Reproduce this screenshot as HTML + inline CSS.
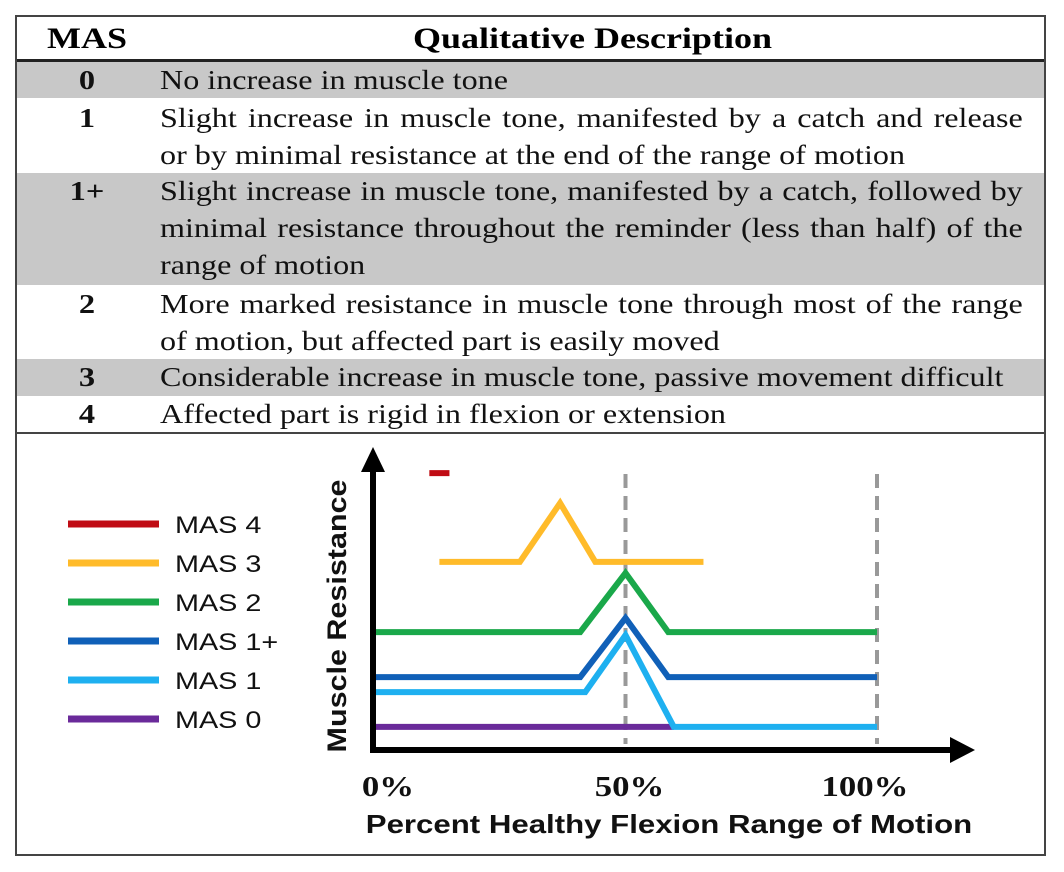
<!DOCTYPE html>
<html><head><meta charset="utf-8"><style>
body{margin:0;width:1064px;height:872px;background:#fff;position:relative;overflow:hidden;font-family:"Liberation Serif",serif;}
.frame{position:absolute;left:15px;top:15px;width:1031px;height:841px;border:2px solid #444;box-sizing:border-box;}
.row{position:absolute;left:17px;width:1027px;font-size:27px;line-height:37px;color:#111;}
.row.g{background:#c8c8c8;}
.row .m{position:absolute;left:0;width:140px;text-align:center;font-weight:bold;transform:scaleX(1.2);}
.row .d{position:absolute;left:143px;top:0;width:725px;transform:scaleX(1.19);transform-origin:0 0;}
.row .d div{white-space:nowrap;text-align:justify;text-align-last:justify;}
.row .d div.l{text-align-last:left;}
.hdr{position:absolute;top:17px;left:17px;width:1027px;height:43px;font-weight:bold;font-size:30px;line-height:43px;}
.hdr span{transform:scaleX(1.2);}
</style></head><body>
<div class="frame"></div>
<div class="hdr">
<span style="position:absolute;left:0;width:140px;text-align:center">MAS</span>
<span style="position:absolute;left:143px;width:865px;text-align:center">Qualitative Description</span></div>
<div style="position:absolute;left:17px;top:59px;width:1027px;height:3px;background:#222"></div>
<div class="row g" style="top:62px;height:36px"><span class="m">0</span><span class="d"><div class="l">No increase in muscle tone</div></span></div>
<div class="row" style="top:100px;height:72px"><span class="m">1</span><span class="d"><div>Slight increase in muscle tone, manifested by a catch and release</div><div class="l">or by minimal resistance at the end of the range of motion</div></span></div>
<div class="row g" style="top:173px;height:112px"><span class="m">1+</span><span class="d"><div>Slight increase in muscle tone, manifested by a catch, followed by</div><div>minimal resistance throughout the reminder (less than half) of the</div><div class="l">range of motion</div></span></div>
<div class="row" style="top:286px;height:72px"><span class="m">2</span><span class="d"><div>More marked resistance in muscle tone through most of the range</div><div class="l">of motion, but affected part is easily moved</div></span></div>
<div class="row g" style="top:359px;height:37px"><span class="m">3</span><span class="d"><div class="l">Considerable increase in muscle tone, passive movement difficult</div></span></div>
<div class="row" style="top:396px;height:37px"><span class="m">4</span><span class="d"><div class="l">Affected part is rigid in flexion or extension</div></span></div>
<div style="position:absolute;left:17px;top:432px;width:1027px;height:2px;background:#444"></div>
<svg id="chart" width="1064" height="872" style="position:absolute;left:0;top:0"></svg>
<script>
const seriesNames=["MAS 4","MAS 3","MAS 2","MAS 1+","MAS 1","MAS 0"];
const seriesColors=["#c00c14","#ffbb2a","#1aa84a","#1060b8","#1eb0f0","#6a2a9a"];
const mas4X=[11,15], mas4Y=[9.23,9.23];
const mas3X=[13,29,37,44,65.5], mas3Y=[6.27,6.27,8.23,6.27,6.27];
const mas2X=[0,41,50,58.5,100], mas2Y=[3.93,3.93,5.9,3.93,3.93];
const mas1pX=[0,41,50,58.5,100], mas1pY=[2.43,2.43,4.4,2.43,2.43];
const mas1X=[0,42,50,59.6,100], mas1Y=[1.93,1.93,3.83,0.77,0.77];
const mas0X=[0,59.6], mas0Y=[0.77,0.77];
const tickVals=[0,50,100];
const tickLabels=["0%","50%","100%"];
const dashVals=[50,100];
const svg=document.getElementById('chart');
const NS="http://www.w3.org/2000/svg";
const xs=p=>374+5.03*p, ys=v=>750-30*v;
function mk(t,a){const e=document.createElementNS(NS,t);for(const k in a)e.setAttribute(k,a[k]);svg.appendChild(e);return e;}
function stretch(e,x){e.setAttribute('transform','translate('+x+',0) scale(1.2,1) translate('+(-x)+',0)');}
dashVals.forEach(v=>{const l=mk('line',{x1:xs(v),x2:xs(v),y1:474,y2:744,stroke:'#999','stroke-width':4,'stroke-dasharray':'14,8'});

});
const allX=[mas4X,mas3X,mas2X,mas1pX,mas1X,mas0X], allY=[mas4Y,mas3Y,mas2Y,mas1pY,mas1Y,mas0Y];
for(let i=5;i>=0;i--){const pts=allX[i].map((x,j)=>xs(x)+','+ys(allY[i][j])).join(' ');
const pl=mk('polyline',{points:pts,fill:'none',stroke:seriesColors[i],'stroke-width':6,'stroke-linejoin':'miter'});

}
const ax=mk('path',{d:'M373,750 L373,462 M370,750 L962,750',stroke:'#000','stroke-width':6,fill:'none'});


const ah1=mk('polygon',{points:'373,447 361,472 385,472',fill:'#000'});


const ah2=mk('polygon',{points:'975,750 950,737 950,763',fill:'#000'});


tickVals.forEach((v,i)=>{const cx=xs(v)+(i==0?14:i==1?4:-12);const t=mk('text',{x:cx,y:796,'text-anchor':'middle','font-family':'Liberation Serif, serif','font-weight':'bold','font-size':29,fill:'#111'});t.textContent=tickLabels[i];stretch(t,cx);

});
const xt=mk('text',{x:669,y:833,'text-anchor':'middle','font-family':'Liberation Sans, sans-serif','font-weight':'bold','font-size':26,fill:'#111'});xt.textContent='Percent Healthy Flexion Range of Motion';stretch(xt,669);


const yt=mk('text',{x:0,y:0,'text-anchor':'middle','font-family':'Liberation Sans, sans-serif','font-weight':'bold','font-size':27,fill:'#111',transform:'translate(346,616) rotate(-90) scale(1.13,1)'});yt.textContent='Muscle Resistance';


seriesNames.forEach((n,i)=>{const y=524+39*i;
const l=mk('line',{x1:68,x2:159,y1:y,y2:y,stroke:seriesColors[i],'stroke-width':7});


const t=mk('text',{x:175,y:y+9,'font-family':'Liberation Sans, sans-serif','font-size':24,fill:'#111'});t.textContent=n;stretch(t,175);

});
</script>
</body></html>
